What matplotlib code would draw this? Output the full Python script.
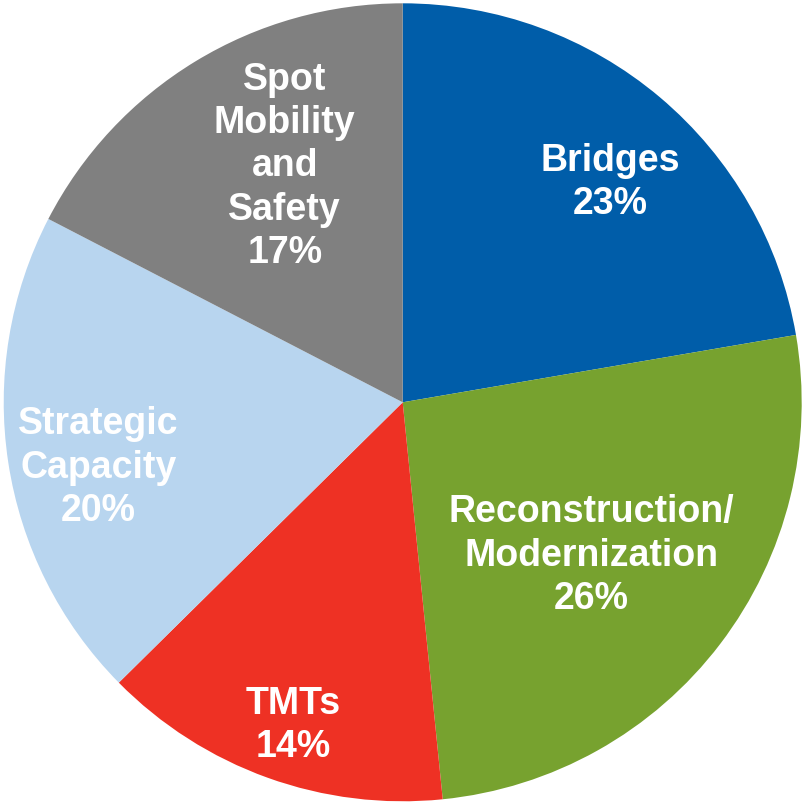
import matplotlib.pyplot as plt
import numpy as np

# Share of program by category, clockwise from 12 o'clock
categories = ['Bridges', 'Reconstruction/\nModernization', 'TMTs',
              'Strategic\nCapacity', 'Spot\nMobility\nand\nSafety']
shares = [22.3, 26.1, 14.2, 20.0, 17.4]   # wedge sizes
pct_labels = ['23%', '26%', '14%', '20%', '17%']  # printed on the chart
colors = ['#005DA9', '#77A22F', '#EE3124', '#B8D5EF', '#808080']

# label placement tweaks (fraction of radius, degrees off wedge middle)
label_radius = [0.762, 0.605, 0.848, 0.779, 0.668]
label_shift = [-2.8, -1.3, 0.9, 2.95, -5.05]

plt.rcParams['font.family'] = ['Liberation Sans', 'DejaVu Sans']

fig = plt.figure(figsize=(8.06, 8.02), dpi=100)
ax = fig.add_axes([0, 0, 1, 1])

wedges, _ = ax.pie(shares, colors=colors, startangle=90, counterclock=False,
                   radius=1.0, wedgeprops=dict(linewidth=0))

for w, name, pct, r, d in zip(wedges, categories, pct_labels, label_radius, label_shift):
    mid = np.deg2rad((w.theta1 + w.theta2) / 2 + d)
    # small downward nudge so the text block sits like the original
    ax.text(r * np.cos(mid), r * np.sin(mid) - 0.0075, f'{name}\n{pct}',
            ha='center', va='center', color='white', fontsize=27,
            fontweight='bold', linespacing=1.26)

# pie radius ~399 px, centre at (402.7, 402.3) px from top-left
ax.set_xlim(-1.0093, 1.0108)
ax.set_ylim(-1.0018, 1.0083)
ax.set_aspect('equal')
ax.axis('off')

fig.savefig('out.png', dpi=100)
